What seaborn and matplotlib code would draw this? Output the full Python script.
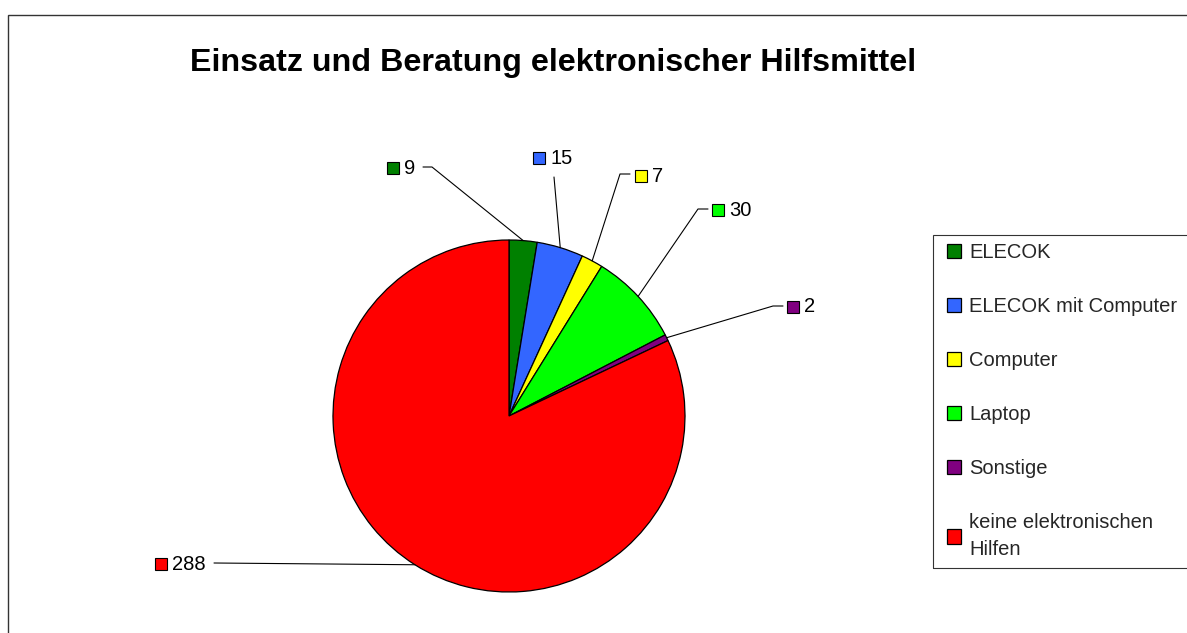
import matplotlib
matplotlib.use('Agg')
import matplotlib.pyplot as plt
import numpy as np
import seaborn as sns
from matplotlib.patches import Rectangle

# Data
categories = ['ELECOK', 'ELECOK mit Computer', 'Computer', 'Laptop', 'Sonstige',
              'keine elektronischen\nHilfen']
values = [9, 15, 7, 30, 2, 288]
colors = ['#008000', '#3366FF', '#FFFF00', '#00FF00', '#800080', '#FF0000']
title = 'Einsatz und Beratung elektronischer Hilfsmittel'

# Layout (pixels, y measured from top)
W, H = 1187, 633
pie_cx, pie_cy, pie_r = 509, 416, 176
label_sq = [(393, 168), (539, 158), (641, 176), (718, 210), (793, 307), (161, 564)]
# leader line points from label side towards the pie (wedge point appended)
leader_start = [[(423, 167), (432, 167)], [(554, 177)], [(630, 174), (620, 174)],
                [(708, 209), (698, 209)], [(783, 306), (773, 306)], [(214, 563)]]

sns.set_theme(style='white')
plt.rcParams['font.family'] = ['Liberation Sans', 'DejaVu Sans']

fig = plt.figure(figsize=(W / 100, H / 100), dpi=100)
ax = fig.add_axes([0, 0, 1, 1])

wedges, _ = ax.pie(values, colors=colors, startangle=90, counterclock=False,
                   center=(pie_cx, H - pie_cy), radius=pie_r,
                   wedgeprops=dict(edgecolor='black', linewidth=0.9))
ax.set_xlim(0, W)
ax.set_ylim(0, H)
ax.set_aspect('equal')
ax.axis('off')

# value labels with leader lines
for w, v, c, (sx, sy), pts in zip(wedges, values, colors, label_sq, leader_start):
    mid = np.deg2rad((w.theta1 + w.theta2) / 2)
    ex = pie_cx + pie_r * np.cos(mid)
    ey = (H - pie_cy) + pie_r * np.sin(mid)
    xs = [p[0] for p in pts] + [ex]
    ys = [H - p[1] for p in pts] + [ey]
    ax.plot(xs, ys, color='black', lw=0.8)
    ax.plot(sx, H - sy, marker='s', ms=9, mfc=c, mec='black', mew=0.8)
    ax.text(sx + 11, H - sy, str(v), ha='left', va='center', fontsize=14.5, color='black')

# legend
leg = fig.legend(wedges, categories, loc='upper left', bbox_to_anchor=(939 / W, 1 - 235 / H),
                 frameon=False, fontsize=14.5, handlelength=0.7, handleheight=0.7,
                 handletextpad=0.4, labelspacing=1.74, borderaxespad=0)
leg.get_texts()[-1].set_linespacing(1.5)
fig.add_artist(Rectangle((933 / W, 1 - 568 / H), 0.5, (568 - 235) / H,
                         transform=fig.transFigure, fill=False, edgecolor='#333333', lw=0.8))

# outer chart border (only left and top visible)
fig.add_artist(Rectangle((8 / W, -0.5), 2, 1.5 - 15 / H, transform=fig.transFigure,
                         fill=False, edgecolor='#333333', lw=1))

fig.text(553 / W, 1 - 63 / H, title, ha='center', va='center', fontsize=23.2,
         fontweight='bold', color='black')

fig.savefig('out.png', dpi=100)
